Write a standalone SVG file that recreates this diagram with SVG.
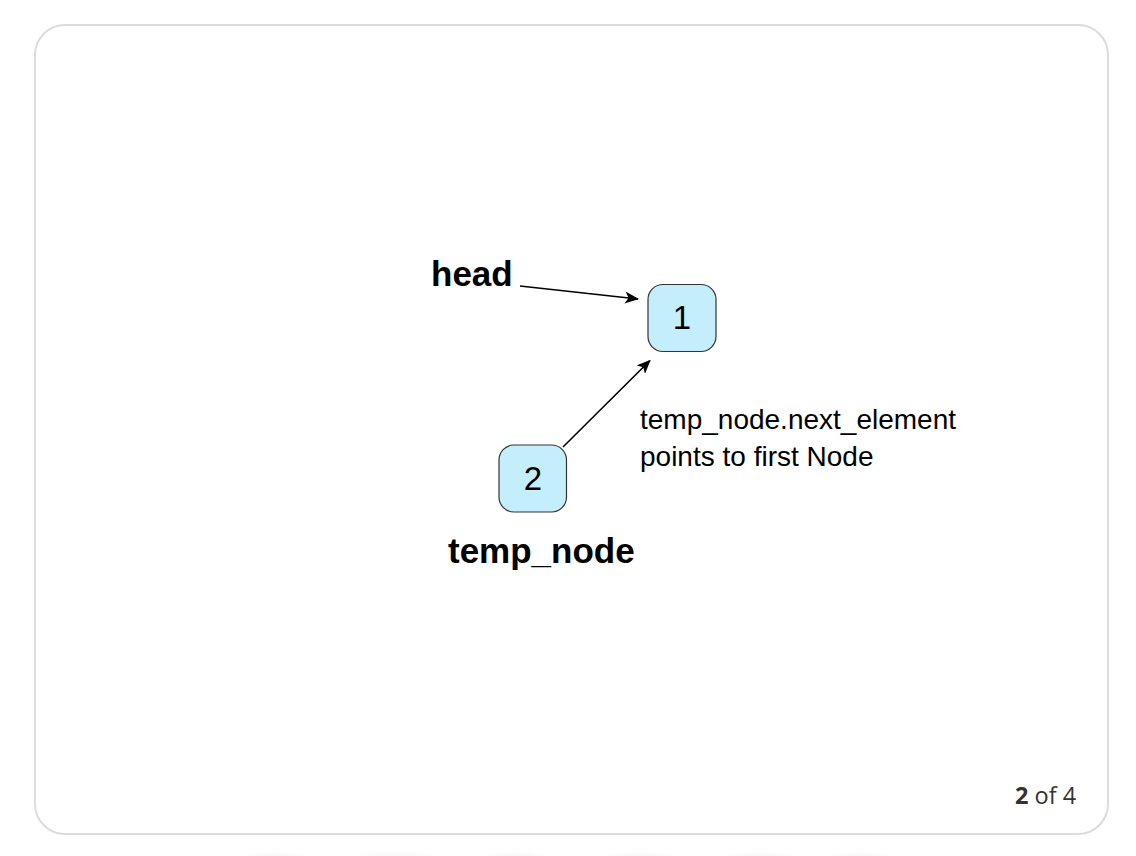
<svg xmlns="http://www.w3.org/2000/svg" width="1136" height="856" viewBox="0 0 1136 856">
  <style>
    .card { fill: #ffffff; stroke: #dcdcdc; stroke-width: 2; }
    .node rect { fill: #c4eefc; stroke: #333333; stroke-width: 1.2; }
    .node text { font-family: "Liberation Sans", Arial, sans-serif; font-size: 33px; fill: #000; text-anchor: middle; }
    .label { font-family: "Liberation Sans", Arial, sans-serif; font-size: 35px; font-weight: bold; fill: #000; }
    .note { font-family: "Liberation Sans", Arial, sans-serif; font-size: 28px; fill: #000; }
    .edge { stroke: #000; stroke-width: 1.6; fill: none; marker-end: url(#arrow); }
    .pager { font-family: "Open Sans", "Noto Sans", sans-serif; font-size: 23.5px; fill: #333333; }
  </style>
  <defs>
    <marker id="arrow" viewBox="0 0 14 12" refX="13" refY="6" markerWidth="14" markerHeight="12" markerUnits="userSpaceOnUse" orient="auto">
      <path d="M0,0 L14,6 L0,12 L3.5,6 Z" fill="#000"/>
    </marker>
    <radialGradient id="shade" cx="0.5" cy="0.5" r="0.5">
      <stop offset="0" stop-color="#000" stop-opacity="0.035"/>
      <stop offset="1" stop-color="#000" stop-opacity="0"/>
    </radialGradient>
  </defs>

  <rect width="1136" height="856" fill="#ffffff"/>

  <!-- faint shadows under the card -->
  <g id="shadows">
    <ellipse cx="275" cy="858" rx="40" ry="8" fill="url(#shade)"/>
    <ellipse cx="395" cy="858" rx="50" ry="9" fill="url(#shade)"/>
    <ellipse cx="515" cy="858" rx="40" ry="8" fill="url(#shade)"/>
    <ellipse cx="640" cy="858" rx="45" ry="8" fill="url(#shade)"/>
    <ellipse cx="760" cy="858" rx="45" ry="8" fill="url(#shade)"/>
    <ellipse cx="860" cy="858" rx="40" ry="8" fill="url(#shade)"/>
  </g>

  <!-- slide card -->
  <rect class="card" x="35" y="25" width="1073" height="809" rx="30" ry="30"/>

  <!-- connectors -->
  <g id="connectors">
    <line class="edge" x1="520" y1="286" x2="638" y2="299"/>
    <line class="edge" x1="563" y1="447" x2="650" y2="360.5"/>
  </g>

  <g id="node1" class="node">
    <rect x="648" y="284.5" width="68" height="67" rx="15" ry="15"/>
    <text x="682" y="329">1</text>
  </g>

  <g id="node2" class="node">
    <rect x="499" y="445" width="67.5" height="67" rx="15" ry="15"/>
    <text x="533" y="490">2</text>
  </g>

  <g id="labels">
    <text class="label" x="431" y="286">head</text>
    <text class="label" x="448" y="563">temp_node</text>
    <text class="note" x="640" y="429">temp_node.next_element</text>
    <text class="note" x="640" y="466">points to first Node</text>
  </g>

  <text class="pager" x="1015" y="804"><tspan font-weight="bold">2</tspan> of 4</text>
</svg>
